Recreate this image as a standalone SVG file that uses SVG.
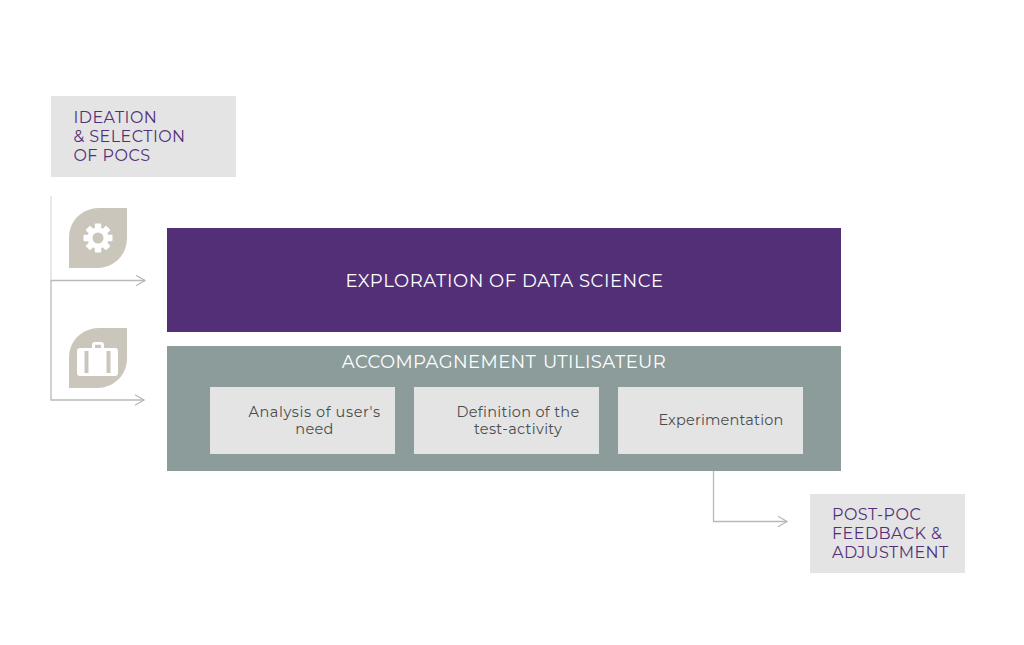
<svg xmlns="http://www.w3.org/2000/svg" width="1024" height="645" viewBox="0 0 1024 645">
<defs>
<style>
text{font-family:"Montserrat","Inter","Liberation Sans",sans-serif}
.tag{fill:#e4e4e4}
.tagt{fill:#532f78;font-size:16px;letter-spacing:.45px}
.step{fill:#e4e4e4}
.stept{fill:#4a4d4d;font-size:14.500px;letter-spacing:.3px;text-anchor:middle}
.head{fill:#fff;font-size:18px;letter-spacing:.55px;text-anchor:middle}
.leaf{fill:#cbc6bb}
.wire{fill:none;stroke:#b9b9b9;stroke-width:1.300}
.pale{stroke:#dedede}
.glyph{fill:#fff}
</style>
<marker id="open" markerWidth="14" markerHeight="14" refX="12" refY="6" orient="auto" markerUnits="userSpaceOnUse" viewBox="0 0 14 12">
<path d="M3 0.700L12 6L3 11.300" fill="none" stroke="#b9b9b9" stroke-width="1.300"/>
</marker>
<path id="leaf-shape" class="leaf" d="M58 0V30C58 48 44 60 28 60H0V30C0 12 14 0 30 0Z"/>
<rect id="tooth" class="glyph" x="-3.200" y="-14.500" width="6.400" height="8" rx="1"/>
</defs>
<rect width="1024" height="645" fill="#fff"/>
<g id="connectors">
<path class="wire pale" d="M51 196V280"/>
<path class="wire" d="M51 280.500H145" marker-end="url(#open)"/>
<path class="wire" d="M51 280V400H144" marker-end="url(#open)"/>
<path class="wire" d="M713.500 470V521.500H787" marker-end="url(#open)"/>
</g>
<g id="ideation">
<rect class="tag" x="51" y="96" width="185" height="81"/>
<text class="tagt" x="73.500" y="123">IDEATION</text>
<text class="tagt" x="73.500" y="142">&amp; SELECTION</text>
<text class="tagt" x="73.500" y="161">OF POCS</text>
</g>
<g id="icon-gear">
<use href="#leaf-shape" x="69" y="208"/>
<g transform="translate(98 238)">
<circle class="glyph" r="10.500"/>
<use href="#tooth"/>
<use href="#tooth" transform="rotate(45)"/>
<use href="#tooth" transform="rotate(90)"/>
<use href="#tooth" transform="rotate(135)"/>
<use href="#tooth" transform="rotate(180)"/>
<use href="#tooth" transform="rotate(225)"/>
<use href="#tooth" transform="rotate(270)"/>
<use href="#tooth" transform="rotate(315)"/>
<circle class="leaf" r="5.500"/>
</g>
</g>
<g id="icon-case">
<use href="#leaf-shape" x="69" y="328"/>
<path class="glyph" fill-rule="evenodd" d="M80 348H92V345Q92 342 95 342H101Q104 342 104 345V348H115Q118 348 118 351V373Q118 376 115 376H80Q77 376 77 373V351Q77 348 80 348ZM95 344.800V348H101V344.800ZM84.500 351V373H88.500V351ZM106.500 351V373H110.500V351Z"/>
</g>
<g id="exploration">
<rect x="167" y="228" width="674" height="104" fill="#532f78"/>
<text class="head" x="504.500" y="286.500">EXPLORATION OF DATA SCIENCE</text>
</g>
<g id="accompagnement">
<rect x="167" y="346" width="674" height="125" fill="#8c9c9b"/>
<text class="head" x="504" y="367.500" style="letter-spacing:.4px;word-spacing:1.500px">ACCOMPAGNEMENT UTILISATEUR</text>
</g>
<g id="step-need">
<rect class="step" x="210" y="387" width="185" height="67"/>
<text class="stept" x="314.500" y="417" style="letter-spacing:.6px">Analysis of user's</text>
<text class="stept" x="314.500" y="434">need</text>
</g>
<g id="step-definition">
<rect class="step" x="414" y="387" width="185" height="67"/>
<text class="stept" x="518" y="417">Definition of the</text>
<text class="stept" x="518" y="434">test-activity</text>
</g>
<g id="step-experimentation">
<rect class="step" x="618" y="387" width="185" height="67"/>
<text class="stept" x="721" y="425" style="letter-spacing:.2px">Experimentation</text>
</g>
<g id="feedback">
<rect class="tag" x="810" y="494" width="155" height="79"/>
<text class="tagt" x="832" y="520">POST-POC</text>
<text class="tagt" x="832" y="539">FEEDBACK &amp;</text>
<text class="tagt" x="832" y="558">ADJUSTMENT</text>
</g>
</svg>
